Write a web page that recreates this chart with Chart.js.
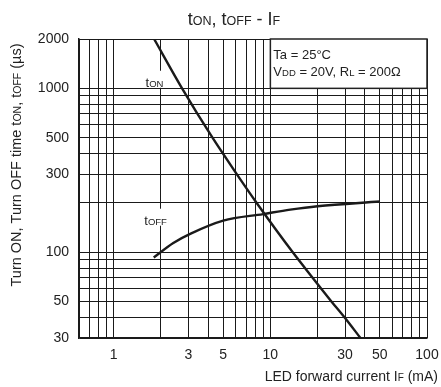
<!DOCTYPE html>
<html>
<head>
<meta charset="utf-8">
<script src="https://cdn.jsdelivr.net/npm/chart.js@4/dist/chart.umd.min.js"></script>
<style>html,body{margin:0;padding:0;background:#fff}</style>
</head>
<body>
<canvas id="chart" width="441" height="387"></canvas>
<script>
// axis gridlines and labelled ticks
const currentTicks = [0.6, 0.7, 0.8, 0.9, 1, 2, 3, 4, 5, 6, 7, 8, 9, 10, 20, 30, 40, 50, 60, 70, 80, 90, 100];
const currentLabels = [1, 3, 5, 10, 30, 50, 100];
const timeTicks = [30, 40, 50, 60, 70, 80, 90, 100, 200, 300, 400, 500, 600, 700, 800, 900, 1000, 2000];
const timeLabels = [30, 50, 100, 300, 500, 1000, 2000];

// curves (IF in mA, time in us)
const tOnCurrent = [1.81, 2.73, 4.27, 6.1, 8.18, 13.9, 18.6, 24.6, 29.8, 37.6];
const tOnTime = [2000, 1000, 500, 300, 200, 100, 70, 50, 40, 30];
const tOffCurrent = [1.8, 2.4, 3.1, 5, 9, 13.4, 20, 50];
const tOffTime = [93, 114, 130, 156, 171, 182, 191, 204];

const FONT = '"Liberation Sans", Arial, sans-serif';

function toPoints(xs, ys) {
    return xs.map((x, i) => ({ x: x, y: ys[i] }));
}

// draws text where some parts are smaller (tON, VDD ...)
function richText(ctx, parts, x, y, align, big, small) {
    let w = 0;
    parts.forEach(p => {
        ctx.font = (p[1] ? small : big) + 'px ' + FONT;
        w += ctx.measureText(p[0]).width;
    });
    let cx = x;
    if (align === 'center') cx = x - w / 2;
    if (align === 'right') cx = x - w;
    ctx.textAlign = 'left';
    ctx.textBaseline = 'alphabetic';
    parts.forEach(p => {
        ctx.font = (p[1] ? small : big) + 'px ' + FONT;
        ctx.fillText(p[0], cx, y);
        cx += ctx.measureText(p[0]).width;
    });
    return w;
}

const overlay = {
    id: 'overlay',
    afterDatasetsDraw(chart) {
        const ctx = chart.ctx;
        const xs = chart.scales.x, ys = chart.scales.y;
        ctx.save();

        // condition box
        const bx = xs.getPixelForValue(10), by = ys.getPixelForValue(2000);
        const bw = xs.getPixelForValue(100) - bx, bh = ys.getPixelForValue(1000) - by;
        ctx.fillStyle = '#fff';
        ctx.fillRect(bx, by, bw, bh);
        ctx.strokeStyle = '#222';
        ctx.lineWidth = 1.5;
        ctx.strokeRect(bx, by, bw, bh);
        ctx.fillStyle = '#222';
        richText(ctx, [['Ta = 25°C', 0]], bx + 3, by + 20, 'left', 13, 9.5);
        richText(ctx, [['V', 0], ['DD', 1], [' = 20V, R', 0], ['L', 1], [' = 200Ω', 0]], bx + 3, by + 37, 'left', 13, 9.5);

        // curve labels with white background
        const labels = [
            { parts: [['t', 0], ['ON', 1]], x: 1.82, y: 1097 },
            { parts: [['t', 0], ['OFF', 1]], x: 1.85, y: 158 }
        ];
        labels.forEach(l => {
            const px = xs.getPixelForValue(l.x), py = ys.getPixelForValue(l.y);
            ctx.font = '13px ' + FONT;
            let w = ctx.measureText('t').width;
            ctx.font = '9.5px ' + FONT;
            w += ctx.measureText(l.parts[1][0]).width;
            ctx.fillStyle = '#fff';
            ctx.fillRect(px - w / 2 - 3, py - 11, w + 6, 17);
            ctx.fillStyle = '#222';
            richText(ctx, l.parts, px, py + 5, 'center', 13, 9.5);
        });
        ctx.restore();
    },
    afterDraw(chart) {
        const ctx = chart.ctx;
        ctx.save();
        ctx.fillStyle = '#222';
        richText(ctx, [['t', 0], ['ON', 1], [', t', 0], ['OFF', 1], [' - I', 0], ['F', 1]], 234, 25, 'center', 18, 12.5);
        richText(ctx, [['LED forward current I', 0], ['F', 1], [' (mA)', 0]], 438, 381, 'right', 14, 10);
        ctx.translate(21, 165);
        ctx.rotate(-Math.PI / 2);
        richText(ctx, [['Turn ON, Turn OFF time t', 0], ['ON', 1], [', t', 0], ['OFF', 1], [' (µs)', 0]], 0, 0, 'center', 14.5, 10.5);
        ctx.restore();
    }
};

const ctx = document.getElementById('chart').getContext('2d');
const chart = new Chart(ctx, {
    type: 'scatter',
    data: {
        datasets: [{
            label: 'tON',
            data: toPoints(tOnCurrent, tOnTime),
            showLine: true,
            borderColor: '#1a1a1a',
            borderWidth: 2.4,
            pointRadius: 0,
            cubicInterpolationMode: 'monotone'
        }, {
            label: 'tOFF',
            data: toPoints(tOffCurrent, tOffTime),
            showLine: true,
            borderColor: '#1a1a1a',
            borderWidth: 2.4,
            pointRadius: 0,
            cubicInterpolationMode: 'monotone'
        }]
    },
    options: {
        responsive: false,
        animation: false,
        layout: { padding: { top: 39, right: 14, left: 0, bottom: 0 } },
        plugins: { legend: { display: false }, tooltip: { enabled: false }, title: { display: false } },
        scales: {
            x: {
                type: 'logarithmic',
                min: 0.6,
                max: 100,
                afterBuildTicks: s => { s.ticks = currentTicks.map(v => ({ value: v })); },
                afterFit: s => { s.height = 49; s.paddingLeft = 0; s.paddingRight = 0; },
                ticks: {
                    autoSkip: false,
                    maxRotation: 0,
                    padding: 9,
                    color: '#222',
                    font: { family: FONT, size: 14 },
                    callback: v => currentLabels.includes(v) ? String(v) : ''
                },
                grid: { color: '#1a1a1a', lineWidth: 1, drawTicks: false },
                border: { color: '#1a1a1a', width: 1.5 }
            },
            y: {
                type: 'logarithmic',
                min: 30,
                max: 2000,
                afterBuildTicks: s => { s.ticks = timeTicks.map(v => ({ value: v })); },
                afterFit: s => { s.width = 79; s.paddingTop = 0; s.paddingBottom = 0; },
                ticks: {
                    autoSkip: false,
                    padding: 10,
                    color: '#222',
                    font: { family: FONT, size: 14 },
                    callback: v => timeLabels.includes(v) ? String(v) : ''
                },
                grid: { color: '#1a1a1a', lineWidth: 1, drawTicks: false },
                border: { color: '#1a1a1a', width: 1.5 }
            }
        }
    },
    plugins: [overlay]
});
</script>
</body>
</html>
